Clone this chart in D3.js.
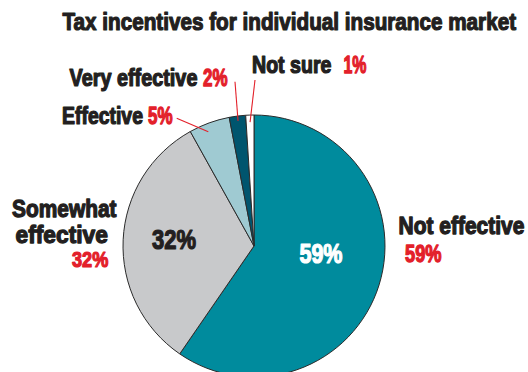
<!DOCTYPE html>
<html>
<head>
<meta charset="utf-8">
<script src="https://cdn.jsdelivr.net/npm/d3@7"></script>
<style>
  html, body { margin: 0; padding: 0; background: #fff; }
  svg { display: block; }
  text { font-family: "Liberation Sans", Arial, "DejaVu Sans", sans-serif; font-weight: bold; }
</style>
</head>
<body>
<svg id="chart" width="528" height="372"></svg>
<script>
// Survey answers, clockwise from 12 o'clock
const categories = ["Not effective", "Somewhat effective", "Effective", "Very effective", "Not sure"];
const values = [59, 32, 5, 2, 1];
const sliceColors = ["#008b9d", "#c8c9cb", "#9fcad2", "#00556e", "#ffffff"];
const title = "Tax incentives for individual insurance market";

const cx = 254, cy = 246, R = 131;
const ink = "#231f20", red = "#e3202a";

const svg = d3.select("#chart");

// Condensed heavy text: draw at natural width, then squeeze horizontally to the wanted width
function label(x, y, str, size, fill, width) {
  const t = svg.append("text")
    .attr("font-size", size)
    .attr("fill", fill)
    .attr("stroke", fill)
    .attr("stroke-width", 1.25)
    .attr("stroke-linejoin", "round")
    .text(str);
  const natural = t.node().getComputedTextLength();
  const sx = width / natural;
  t.attr("transform", `translate(${x},${y}) scale(${sx},1)`);
  return t;
}

const pie = d3.pie().sort(null).value(d => d.value);
const arcs = pie(categories.map((c, i) => ({ name: c, value: values[i], color: sliceColors[i] })));
const arc = d3.arc().innerRadius(0).outerRadius(R);

const g = svg.append("g").attr("transform", `translate(${cx},${cy})`);
g.selectAll("path.slice")
  .data(arcs)
  .join("path")
  .attr("class", "slice")
  .attr("d", arc)
  .attr("fill", d => d.data.color)
  .attr("stroke", "#2b2b2b")
  .attr("stroke-width", 1)
  .attr("stroke-linejoin", "round");

// Title
label(62.5, 29.5, title, 24.5, ink, 454);

const pct = v => v + "%";

// Outside labels: name and red percentage, with leader lines for the thin slices
const layout = {
  "Not effective":      { name: [{ t: "Not effective", x: 398.5, y: 234.3, len: 126 }], p: { x: 405, y: 261.7, len: 36.5 } },
  "Somewhat effective": { name: [{ t: "Somewhat", x: 12, y: 216.7, len: 104.5 }, { t: "effective", x: 15.5, y: 243.3, len: 92.5 }], p: { x: 72, y: 267.3, len: 36.3 } },
  "Effective":          { name: [{ t: "Effective", x: 62, y: 123.5, len: 81 }], p: { x: 148, y: 123.5, len: 24.5 }, leader: { from: [176.7, 118.3], frac: 0.4, r: 123 } },
  "Very effective":     { name: [{ t: "Very effective", x: 69.5, y: 85.5, len: 128 }], p: { x: 203, y: 86, len: 24.5 }, leader: { from: [235, 81.7], frac: 0.5, r: 126 } },
  "Not sure":           { name: [{ t: "Not sure", x: 252, y: 72.7, len: 79.5 }], p: { x: 343.5, y: 72.7, len: 23 }, leader: { from: [255, 80], frac: 0.5, r: 124 } }
};

arcs.forEach(d => {
  const L = layout[d.data.name];
  L.name.forEach(n => label(n.x, n.y, n.t, 23, ink, n.len));
  label(L.p.x, L.p.y, pct(d.data.value), 23, red, L.p.len);
  if (L.leader) {
    const a = d.startAngle + L.leader.frac * (d.endAngle - d.startAngle);
    svg.append("line")
      .attr("x1", L.leader.from[0]).attr("y1", L.leader.from[1])
      .attr("x2", cx + L.leader.r * Math.sin(a))
      .attr("y2", cy - L.leader.r * Math.cos(a))
      .attr("stroke", red)
      .attr("stroke-width", 1.1);
  }
});

// Percentages inside the two large slices
const inner = {
  "Not effective":      { x: 299.5, y: 262.7, len: 43, fill: "#ffffff" },
  "Somewhat effective": { x: 152, y: 249.3, len: 44, fill: ink }
};
arcs.filter(d => inner[d.data.name]).forEach(d => {
  const s = inner[d.data.name];
  label(s.x, s.y, pct(d.data.value), 27, s.fill, s.len);
});
</script>
</body>
</html>
